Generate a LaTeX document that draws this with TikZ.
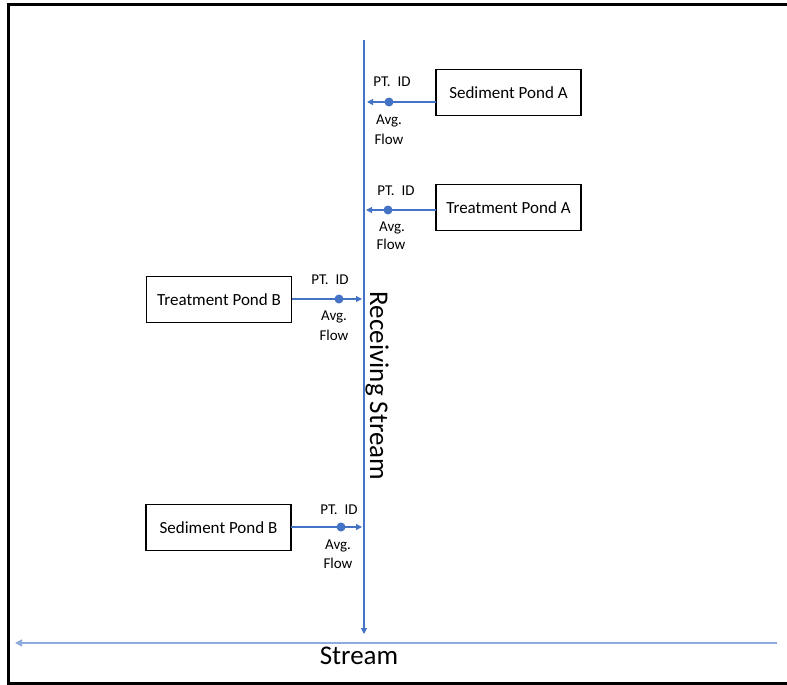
\documentclass[tikz,border=0pt]{standalone}
\usepackage{fontspec}
\setmainfont{Carlito}
\usetikzlibrary{arrows.meta}
\definecolor{flowblue}{RGB}{68,114,196}
\definecolor{streamblue}{RGB}{143,170,220}
\tikzset{
  x=1pt, y=-1pt,
  pond/.style={draw=black, line width=1.8pt, minimum width=145pt, minimum height=46pt, inner sep=0pt, font=\fontsize{17}{20}\selectfont},
  flow/.style={draw=flowblue, line width=1.1pt, -{Triangle[length=6pt,width=6pt]}},
  dot/.style={circle, fill=flowblue, inner sep=0pt, minimum size=9pt},
  lbl/.style={font=\fontsize{15}{17}\selectfont, inner sep=0pt},
  big/.style={font=\fontsize{27}{30}\selectfont, inner sep=0pt},
}
\newcommand{\ptid}{PT.\hspace{0.45em}ID}
\begin{document}
\begin{tikzpicture}
\useasboundingbox (0,0) rectangle (787,685);
% outer frame
\draw[line width=3pt] (787,5) -- (8,5) -- (8,683) -- (787,683);

% receiving stream
\coordinate (rtop) at (364,40);
\coordinate (rbot) at (364,634);
\draw[flow] (rtop) -- (rbot);
\node[big, rotate=-90] (rs) at (377,386) {Receiving Stream};

% stream
\coordinate (sright) at (777,643);
\coordinate (sleft) at (15,643);
\draw[draw=streamblue, line width=1.4pt, -{Triangle[length=7pt,width=7pt]}] (sright) -- (sleft);
\node[big] (st) at (359,656) {Stream};

% ponds
\node[pond] (spa) at (508.5,92.5) {Sediment Pond A};
\node[pond] (tpa) at (508.5,207.5) {Treatment Pond A};
\node[pond] (tpb) at (219,299.5) {Treatment Pond B};
\node[pond] (spb) at (218.5,527.5) {Sediment Pond B};

% Sediment Pond A connector
\coordinate (spaS) at (436,102);
\coordinate (spaE) at (367,102);
\draw[flow] (spaS) -- (spaE);
\node[dot] (spaD) at (389,102) {};
\node[lbl] (spaP) at (392,82) {\ptid};
\node[lbl] (spaA) at (389,121) {Avg.};
\node[lbl] (spaF) at (389,139) {Flow};

% Treatment Pond A connector
\coordinate (tpaS) at (436,210);
\coordinate (tpaE) at (366,210);
\draw[flow] (tpaS) -- (tpaE);
\node[dot] (tpaD) at (388,210) {};
\node[lbl] (tpaP) at (396,191) {\ptid};
\node[lbl] (tpaA) at (392,228) {Avg.};
\node[lbl] (tpaF) at (391,244) {Flow};

% Treatment Pond B connector
\coordinate (tpbS) at (292,299);
\coordinate (tpbE) at (362,299);
\draw[flow] (tpbS) -- (tpbE);
\node[dot] (tpbD) at (339,299) {};
\node[lbl] (tpbP) at (330,280) {\ptid};
\node[lbl] (tpbA) at (334,317) {Avg.};
\node[lbl] (tpbF) at (334,335) {Flow};

% Sediment Pond B connector
\coordinate (spbS) at (291,527);
\coordinate (spbE) at (362,527);
\draw[flow] (spbS) -- (spbE);
\node[dot] (spbD) at (341,527) {};
\node[lbl] (spbP) at (339,510) {\ptid};
\node[lbl] (spbA) at (338,546) {Avg.};
\node[lbl] (spbF) at (338,563) {Flow};
\end{tikzpicture}
\end{document}
